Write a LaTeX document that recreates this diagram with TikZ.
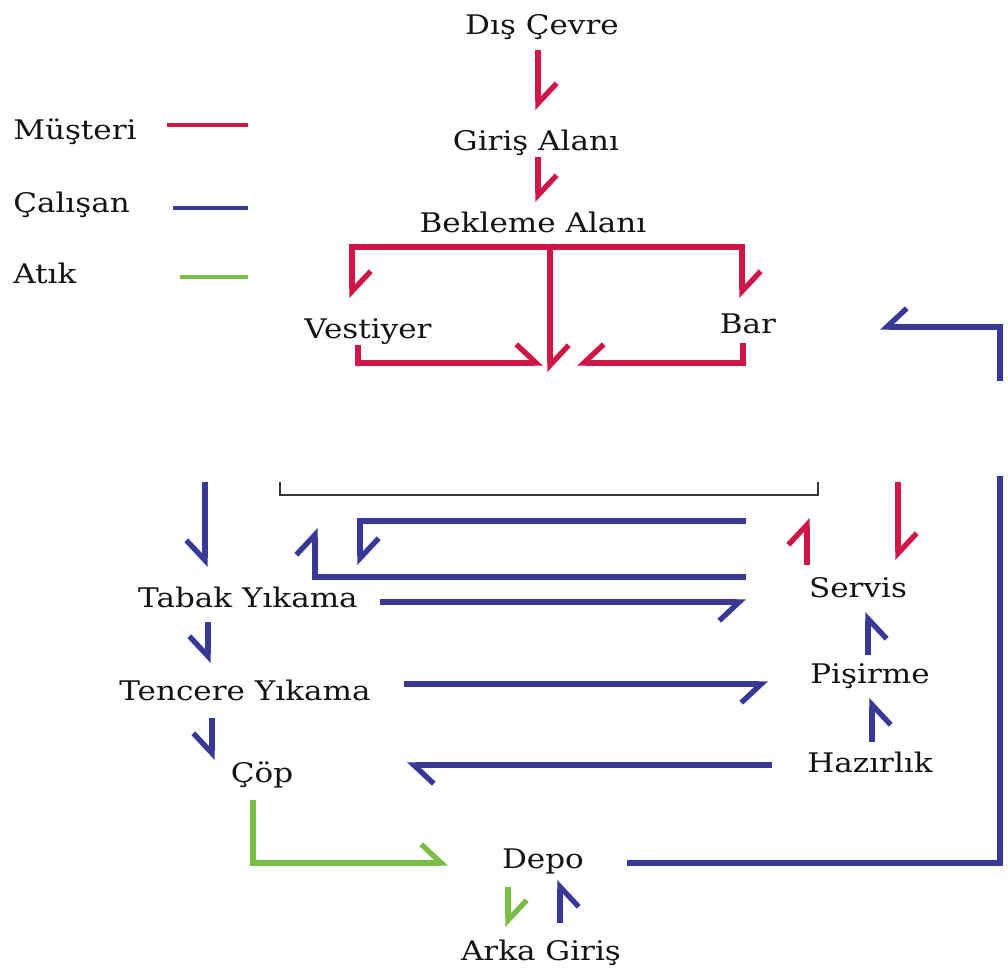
\documentclass[tikz,border=0pt]{standalone}
\usepackage{fontspec}
\setmainfont{DejaVu Serif}[FakeStretch=1.15]
\usetikzlibrary{arrows.meta}
\definecolor{mred}{RGB}{208,22,70}
\definecolor{mblue}{RGB}{56,56,150}
\definecolor{mgreen}{RGB}{122,190,72}
\definecolor{txt}{RGB}{20,20,20}
\begin{document}
\begin{tikzpicture}[x=0.75pt,y=-0.75pt,
  lbl/.style={anchor=base,inner sep=0pt,text=txt,font=\fontsize{20.25pt}{22pt}\selectfont},
  leg/.style={lbl,anchor=base west},
  flow/.style={line width=4pt,line join=miter},
  mus/.style={flow,draw=mred},
  cal/.style={flow,draw=mblue},
  atk/.style={flow,draw=mgreen},
  bl/.style={-{Straight Barb[left,length=15pt,width=28pt]}},
  br/.style={-{Straight Barb[right,length=15pt,width=28pt]}}]
\useasboundingbox (0,0) rectangle (1008,974);
% legend
\node[leg] (lm) at (13,140) {Müşteri};
\node[leg] (lc) at (13,212) {Çalışan};
\node[leg] (la) at (13,283) {Atık};
\draw[line width=3pt,mred] (167,125) -- (248,125);
\draw[line width=3pt,mblue] (173,208) -- (248,208);
\draw[line width=3pt,mgreen] (180,277) -- (248,277);
% labels
\node[lbl] (dis) at (542,35) {Dış Çevre};
\node[lbl] (giris) at (536,151) {Giriş Alanı};
\node[lbl] (bekl) at (533,232) {Bekleme Alanı};
\node[lbl] (vest) at (368,338) {Vestiyer};
\node[lbl] (bar) at (748,333) {Bar};
\node[lbl] (tabak) at (248,607) {Tabak Yıkama};
\node[lbl] (tenc) at (245,700) {Tencere Yıkama};
\node[lbl] (cop) at (262,782) {Çöp};
\node[lbl] (servis) at (858,597) {Servis};
\node[lbl] (pis) at (870,683) {Pişirme};
\node[lbl] (haz) at (870,772) {Hazırlık};
\node[lbl] (depo) at (543,868) {Depo};
\node[lbl] (arka) at (541,960) {Arka Giriş};
% dining area bracket
\draw[line width=1.6pt,draw=txt!85] (280,482) |- (818,495) -- (818,482);
% customer flow
\draw[mus,bl] (538,50) -- (538,110);
\draw[mus,bl] (538,157) -- (538,202);
\draw[mus,bl] (550,247) -| (352,298);
\draw[mus,bl] (550,247) -| (742,298);
\draw[mus,bl] (550,247) -- (550,372);
\draw[mus,bl] (358,345) |- (543,363);
\draw[mus,br] (743,343) |- (577,363);
\draw[mus,bl] (807,565) -- (807,518);
\draw[mus,bl] (898,482) -- (898,560);
% staff flow
\draw[cal,br] (1000,381) |- (880,327);
\draw[cal] (627,863) -| (1000,476);
\draw[cal,br] (205,482) -- (205,567);
\draw[cal,br] (208,622) -- (208,663);
\draw[cal,br] (212,718) -- (212,760);
\draw[cal,bl] (746,521) -| (360,565);
\draw[cal,bl] (746,577) -| (315,528);
\draw[cal,br] (380,602) -- (746,602);
\draw[cal,br] (404,684) -- (768,684);
\draw[cal,bl] (772,765) -- (407,765);
\draw[cal,br] (868,655) -- (868,612);
\draw[cal,br] (872,742) -- (872,698);
\draw[cal,br] (560,923) -- (560,880);
% waste flow
\draw[atk,bl] (253,800) |- (448,863);
\draw[atk,bl] (508,887) -- (508,927);
\end{tikzpicture}
\end{document}
